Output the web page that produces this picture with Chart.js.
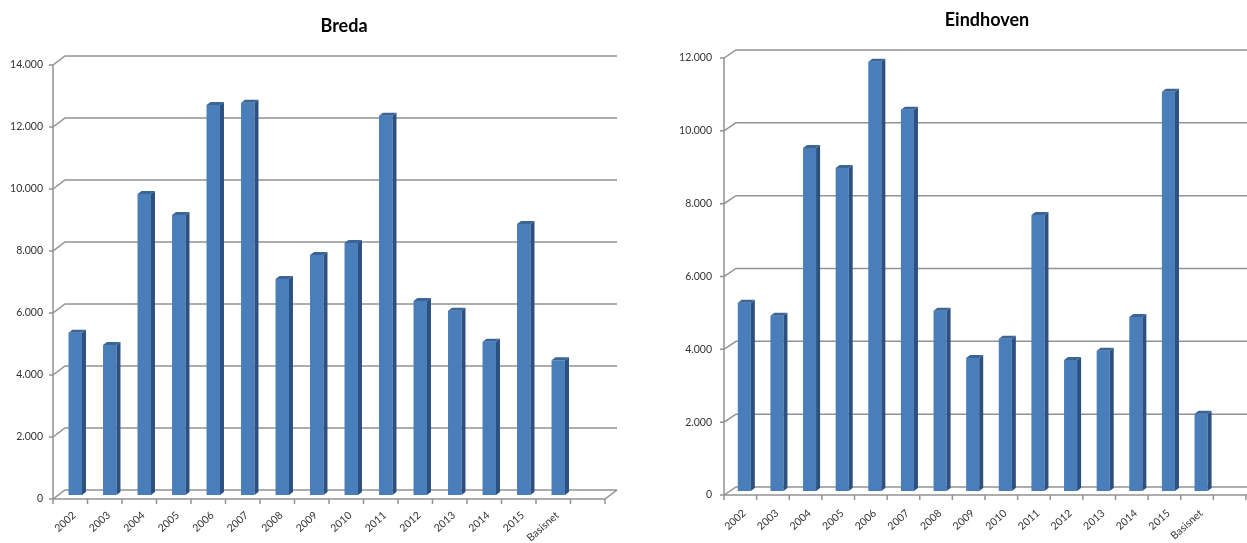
<!DOCTYPE html>
<html><head><meta charset="utf-8">
<script src="https://cdn.jsdelivr.net/npm/chart.js@4.4.0/dist/chart.umd.min.js"></script>
<style>
html,body{margin:0;padding:0;background:#fff;overflow:hidden;width:1247px;height:543px;}
.box{position:absolute;top:0;height:543px;}
#b1{left:0;width:620px;}
#b2{left:630px;width:630px;}
</style></head><body>
<div class="box" id="b1"><canvas id="c1"></canvas></div>
<div class="box" id="b2"><canvas id="c2"></canvas></div>
<script>
const categories = ['2002','2003','2004','2005','2006','2007','2008','2009','2010','2011','2012','2013','2014','2015','Basisnet',''];
const bredaValues = [5230,4840,9710,9030,12580,12650,6970,7740,8130,12230,6260,5940,4940,8740,4350,null];
const eindhovenValues = [5170,4810,9420,8870,11790,10470,4950,3650,4180,7580,3600,3850,4780,10960,2120,null];
const bredaTitle = 'Breda';
const eindhovenTitle = 'Eindhoven';
const bredaMax = 14000;
const eindhovenMax = 12000;
const tickStep = 2000;

const fmt = v => String(v).replace(/\B(?=(\d{3})+(?!\d))/g, '.');

const frame3d = {
  id: 'frame3d',
  beforeDatasetsDraw(chart, args, o) {
    const {ctx, chartArea: a, scales: {x, y}} = chart;
    const f = o.front, b = o.back;
    ctx.save();
    ctx.strokeStyle = o.color; ctx.lineWidth = o.width;
    ctx.beginPath();
    y.ticks.forEach(t => {
      const py = y.getPixelForValue(t.value);
      ctx.moveTo(a.left + f.dx - 4, py + f.dy);
      ctx.lineTo(a.left + f.dx, py + f.dy);
      ctx.lineTo(a.left + b.dx, py + b.dy);
      ctx.lineTo(a.right + b.dx, py + b.dy);
    });
    ctx.moveTo(a.left + f.dx, y.getPixelForValue(y.max) + f.dy);
    ctx.lineTo(a.left + f.dx, a.bottom + f.dy);
    ctx.lineTo(a.right + f.dx, a.bottom + f.dy);
    ctx.lineTo(a.right + b.dx, a.bottom + b.dy);
    const n = x.ticks.length;
    for (let i = 0; i <= n; i++) {
      const px = x.getPixelForValue(i - 0.5) + f.dx;
      ctx.moveTo(px, a.bottom + f.dy);
      ctx.lineTo(px, a.bottom + f.dy + 5);
    }
    ctx.stroke();
    ctx.restore();
  }
};

const bars3d = {
  id: 'bars3d',
  afterDatasetsDraw(chart, args, o) {
    const {ctx} = chart;
    const values = chart.data.datasets[0].data;
    chart.getDatasetMeta(0).data.forEach((bar, i) => {
      if (values[i] == null) return;
      const {x, y, base, width} = bar.getProps(['x','y','base','width'], true);
      if (!isFinite(y) || !isFinite(x)) return;
      const l = x - width/2, r = x + width/2, d = o.dx, h = o.dy;
      ctx.save();
      ctx.fillStyle = o.side;
      ctx.beginPath(); ctx.moveTo(r, y); ctx.lineTo(r+d, y-h); ctx.lineTo(r+d, base-h); ctx.lineTo(r, base); ctx.closePath(); ctx.fill();
      ctx.fillStyle = o.top;
      ctx.beginPath(); ctx.moveTo(l, y); ctx.lineTo(l+d, y-h); ctx.lineTo(r+d, y-h); ctx.lineTo(r, y); ctx.closePath(); ctx.fill();
      ctx.restore();
    });
  }
};

const titleText = {
  id: 'titleText',
  afterDraw(chart, args, o) {
    const {ctx, chartArea: a} = chart;
    ctx.save();
    ctx.font = 'bold 18px Lato';
    ctx.fillStyle = '#000';
    ctx.textAlign = 'center';
    ctx.textBaseline = 'middle';
    ctx.fillText(o.text, (a.left + a.right) / 2 + o.shift, o.y);
    ctx.restore();
  }
};

const tickFont = {family: 'Lato', size: 10.5};

function makeChart(id, title, values, max, cfg) {
  return new Chart(document.getElementById(id), {
    type: 'bar',
    data: {labels: categories, datasets: [{data: values, backgroundColor: '#4a7ebb', borderWidth: 0, barPercentage: cfg.barPct, categoryPercentage: 1}]},
    plugins: [frame3d, bars3d, titleText],
    options: {
      responsive: true, maintainAspectRatio: false, animation: false,
      layout: {padding: {left: 0, right: 10, top: cfg.top, bottom: 0}},
      plugins: {
        legend: {display: false}, tooltip: {enabled: false}, title: {display: false},
        titleText: {text: title, shift: cfg.titleShift, y: cfg.titleY},
        frame3d: {front: cfg.front, back: cfg.back, color: '#929292', width: 1.5},
        bars3d: {dx: 4, dy: 3, side: '#2c5080', top: '#3b6497'}
      },
      scales: {
        x: {grid: {display: false, drawTicks: false}, border: {display: false},
          ticks: {font: tickFont, color: '#333', minRotation: 42, maxRotation: 42, autoSkip: false, padding: cfg.xPad, labelOffset: cfg.xOff},
          afterFit: s => { s.height = cfg.xH; }},
        y: {min: 0, max: max, grid: {display: false, drawTicks: false}, border: {display: false},
          ticks: {stepSize: tickStep, font: tickFont, color: '#333', padding: cfg.yPad, labelOffset: 4, callback: v => fmt(v)},
          afterFit: s => { s.width = cfg.yW; }}
      }
    }
  });
}

makeChart('c1', bredaTitle, bredaValues, bredaMax, {
  barPct: 0.39, top: 61, titleShift: 10, titleY: 26, front: {dx: -5, dy: 4}, back: {dx: 7, dy: -5},
  xPad: 14, xOff: -1, xH: 48, yPad: 15, yW: 58
});
makeChart('c2', eindhovenTitle, eindhovenValues, eindhovenMax, {
  barPct: 0.40, top: 54, titleShift: -2, titleY: 20, front: {dx: -4, dy: 4}, back: {dx: 8, dy: -4},
  xPad: 16, xOff: 0, xH: 52, yPad: 16, yW: 98
});
</script>
</body></html>
